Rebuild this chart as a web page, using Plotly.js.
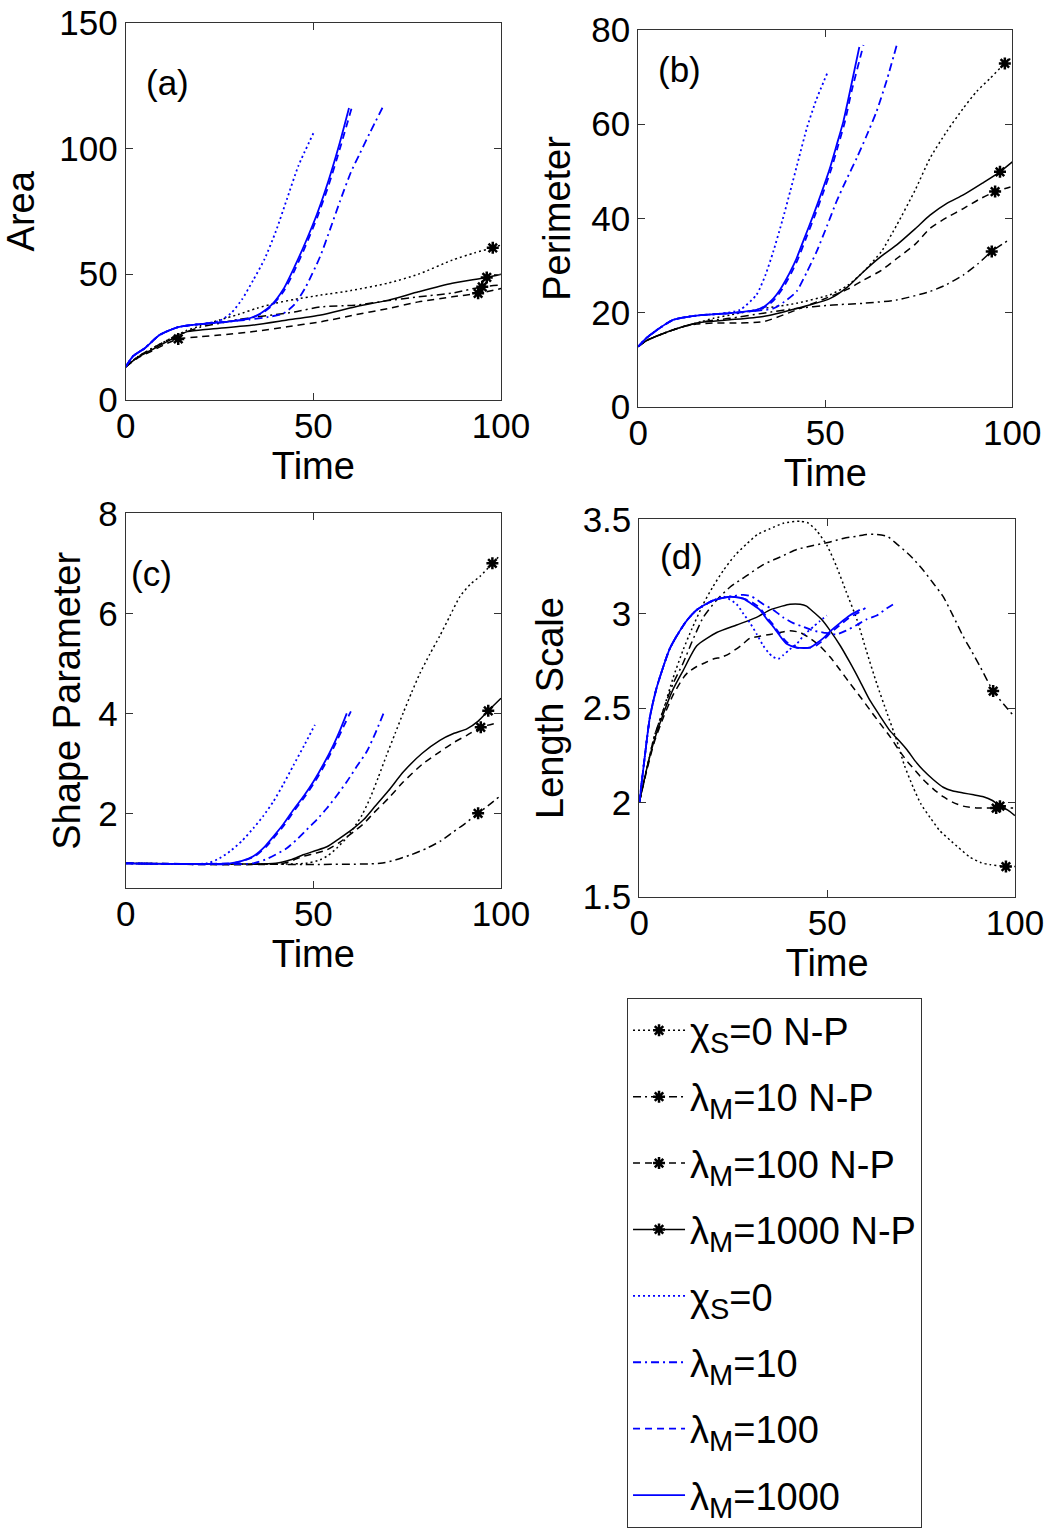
<!DOCTYPE html>
<html>
<head>
<meta charset="utf-8">
<script src="https://cdn.plot.ly/plotly-3.0.1.min.js"></script>
<style>html,body{margin:0;padding:0;background:#fff;}#chart{width:1051px;height:1531px;}</style>
</head>
<body>
<div id="chart"></div>
<script>
// ---------- Panel (a): Area ----------
const tA_k0   = [0,3,7,12,16,20,25,30,35,40,45,52,60,70,78,87,93,97.8,100];
const A_k0    = [13.2,17,20.5,24.5,27.5,29.5,31.8,34,36.5,38.5,40,41.7,43.5,46.5,50,55.6,58.5,60.5,61.6];
const mA_k0   = [97.8];
const tA_k10  = [0,3,7,12,16,20,25,30,35,40,45,52,61,70,78,87,95,100];
const A_k10   = [13.2,17,20.5,24.5,27,29,30.5,32,33,34,35,37,37.7,39.5,41,42.5,45,45.7];
const mA_k10  = [95];
const tA_k100 = [0,3,7,11,14,20,25,34,43,52,61,70,78,87,93.9,100];
const A_k100  = [13.2,16.5,19.5,22.5,24.3,25.2,25.8,27.2,29.1,31.1,33.8,36.4,39,41,42.4,44.3];
const mA_k100 = [14,93.9];
const tA_k1000= [0,3,7,12,16,20,25,34,43,52,61,70,78,87,96.2,100];
const A_k1000 = [13.2,16.8,20,24,27,27.8,28.5,29.8,31.8,33.8,37,39.7,43,46.4,48.7,50];
const mA_k1000= [96.2];
const tA_b0   = [0,2,5,9,14,20,25,28,31,34,37,40,43,46,50];
const A_b0    = [13.2,17.5,20.5,25.8,29,30.2,31.5,34.4,40,47.7,56,67,80,93,106];
const tA_b10  = [0,2,5,9,14,20,27,33,38,42,45,48,51.8,54.5,57.1,60,62.4,65,68.7];
const A_b10   = [13.2,17.5,20.5,25.8,29,30.2,31.1,32,33,34.4,38,45,57,68,79,90.5,98,106,117];
const tA_b100 = [0,2,5,9,14,20,27,33,36,39,42,45,48,51,54,57,60.2];
const A_b100  = [13.2,17.5,20.5,25.8,29,30.2,31.1,32.4,34.2,37.5,43,51.5,61.5,72.5,85,99.5,116];
const tA_b1000= [0,2,5,9,14,20,27,33,36,39,42,45,48,51,54,57,59.5];
const A_b1000 = [13.2,17.5,20.5,25.8,29,30.2,31.1,32.5,34.5,38,44,53,63,74,87,102,116];

// ---------- Panel (b): Perimeter ----------
const tB_k0   = [0,2,6.7,11,15.6,20,24.5,33.4,42.3,51.2,56,60.2,65,69.1,74,78,82.5,86.9,90.5,94,98,100];
const B_k0    = [12.8,14,15.6,16.8,17.8,18.8,19.5,20.9,22,23.8,25.8,28.7,33,38.6,46,52.8,58.5,63.4,67,69.7,72.9,74.3];
const mB_k0   = [98];
const tB_k10  = [0,2,6.7,11,15.6,20,24.5,33.4,42.3,51.2,60.2,69.1,78,82.5,86.9,91,94.5,99];
const B_k10   = [12.8,14,15.6,16.8,17.8,18.4,18.8,19.9,20.9,21.6,22,22.7,24.5,26,28,30.5,33,35.4];
const mB_k10  = [94.5];
const tB_k100 = [0,2,6.7,11,15.6,20,24.5,33.4,42.3,51.2,56,60.2,65,69.1,74,78,82.5,86.9,91,95.4,99.5];
const B_k100  = [12.8,14,15.6,16.8,17.6,17.8,17.8,18.1,20.6,23.4,25,26.9,29,31.5,34.5,37.9,40.2,42.1,44,45.7,46.7];
const mB_k100 = [95.4];
const tB_k1000= [0,2,6.7,11,15.6,20,24.5,33.4,42.3,51.2,56,60.2,65,69.1,74,78,82.5,86.9,92,96.7,100];
const B_k1000 = [12.8,14,15.6,16.8,17.8,18.2,18.5,19.2,20.9,23,25.5,28.7,32,34.4,37.8,40.7,43.2,45,47.5,49.9,52];
const mB_k1000= [96.7];
const tB_b0   = [0,2,4.9,9.4,15.6,22,27.2,31.6,34,36.1,38.5,40.6,43,45,47.5,50.5];
const B_b0    = [12.8,14.5,16.3,18.5,19.4,19.8,20.6,23.8,28,33,39.5,45.7,53,59,65,70.8];
const tB_b10  = [0,2,4.9,9.4,15.6,24.5,31.6,36.1,39,42.3,45,47.7,50.5,53,55.5,58.4,61,63.7,66.5,69.1];
const B_b10   = [12.8,14.5,16.3,18.5,19.4,19.9,20.4,20.9,22.3,24.5,28.5,33,38.5,43.6,48,52.8,57.5,62.7,69.5,76.8];
const tB_b100 = [0,2,4.9,9.4,15.6,24.5,31.6,34.4,36.5,38.4,40.1,41.4,42.7,44.9,47.2,49.4,51.6,53.4,55.2,57,60.2];
const B_b100  = [12.8,14.5,16.3,18.5,19.4,19.9,20.5,21.4,22.9,24.9,27.2,29.2,31.4,35.9,40.6,45.4,50.5,55.4,60.4,66.9,76.8];
const tB_b1000= [0,2,4.9,9.4,15.6,24.5,31.6,34,36.1,38,39.7,41,42.3,44.5,46.8,49,51.2,53,54.8,56.6,59.1];
const B_b1000 = [12.8,14.5,16.3,18.5,19.4,19.9,20.6,21.5,23,25,27.3,29.3,31.5,36,40.7,45.5,50.6,55.5,60.5,67,76.4];

// ---------- Panel (c): Shape Parameter ----------
const tC_k0   = [0,48,51.8,54,56.2,58.5,60.7,63,65.1,67.3,69.5,71.8,74,76.2,78.4,81,83.7,86.4,89.1,91.8,94.4,97.7,99.5];
const C_k0    = [1,1,1.07,1.16,1.3,1.48,1.7,1.97,2.3,2.72,3.16,3.6,4.02,4.42,4.8,5.18,5.55,5.95,6.34,6.58,6.74,7.0,7.14];
const mC_k0   = [97.7];
const tC_k10  = [0,67.8,72,76,80.2,84,87.3,90.5,93.9,97,99.5];
const C_k10   = [1,1,1.07,1.17,1.3,1.45,1.63,1.8,2.0,2.18,2.33];
const mC_k10  = [93.9];
const tC_k100 = [0,42,47.3,50.5,53.6,57,60.7,63.5,66,70,74,79,83.7,87.5,90.9,94.6,99];
const C_k100  = [1,1,1.14,1.2,1.27,1.42,1.63,1.8,2.0,2.3,2.63,2.98,3.23,3.42,3.56,3.72,3.81];
const mC_k100 = [94.6];
const tC_k1000= [0,40,44,47.3,50.5,53.6,57,60.7,63.5,66,70,74,79,83.7,87.5,90.9,94,96.6,100];
const C_k1000 = [1,1,1.07,1.17,1.25,1.33,1.5,1.7,1.88,2.1,2.45,2.83,3.2,3.46,3.6,3.69,3.85,4.05,4.3];
const mC_k1000= [96.6];
const tC_b0   = [0,21.6,25,27.8,31,34,36.7,39.3,42,44.7,47.5,50.4];
const C_b0    = [1,1,1.1,1.24,1.45,1.7,1.95,2.23,2.58,2.96,3.35,3.77];
const tC_b10  = [0,34,38,42.9,45.5,48.2,51,53.6,56.2,58.9,61.5,64.2,66.5,68.7];
const C_b10   = [1,1,1.1,1.3,1.47,1.67,1.88,2.1,2.35,2.63,2.93,3.23,3.6,4.0];
const tC_b100 = [0,28.2,31.4,34.4,37.4,39.7,42.4,45.1,47.9,50.4,53.1,55.7,57.7,60.0];
const C_b100  = [1,1,1.05,1.14,1.33,1.53,1.78,2.07,2.35,2.63,2.98,3.36,3.68,4.04];
const tC_b1000= [0,27.8,31,34,37,39.3,42,44.7,47.5,50,52.7,55.3,57.2,58.9];
const C_b1000 = [1,1,1.05,1.14,1.33,1.53,1.78,2.07,2.35,2.63,2.98,3.36,3.68,4.0];

// ---------- Panel (d): Length Scale ----------
const tD_k0   = [0,2,4,6.4,9,11.7,14,17,19.5,22.4,25.5,28.6,31.5,34.8,38.5,42.8,45,47.2,50,52.5,55,57.9,60.5,63.2,66,68.5,70.5,72.9,75,77.4,80,82.7,85,88,91,93.3,97.6,100];
const D_k0    = [2.0,2.18,2.35,2.49,2.66,2.81,2.92,3.05,3.14,3.23,3.31,3.37,3.42,3.45,3.48,3.49,3.48,3.44,3.36,3.25,3.12,2.97,2.8,2.63,2.47,2.33,2.2,2.08,1.99,1.92,1.85,1.8,1.76,1.71,1.68,1.67,1.66,1.66];
const mD_k0   = [97.6];
const tD_k10  = [0,2,4,6.4,9,11.7,14,17,20.5,24.1,28.5,33,37.5,41.9,46,50.8,54.5,57.9,60.5,63.2,66,68.5,72,75.6,78.3,80.9,83.5,86.2,88.5,90.7,94.2,97,99.6];
const D_k10   = [2.0,2.18,2.35,2.49,2.63,2.74,2.85,2.98,3.07,3.14,3.2,3.26,3.3,3.34,3.36,3.38,3.4,3.41,3.42,3.42,3.41,3.37,3.31,3.23,3.16,3.09,2.99,2.88,2.8,2.72,2.59,2.52,2.46];
const mD_k10  = [94.2];
const tD_k100 = [0,2,4,6.4,9,11.7,13,15.3,17.5,19.7,22,24.1,27,29.5,32,34.8,37.5,40.1,42.8,45.4,48,50.8,53.5,56.1,58.8,61.4,64,66.7,69,71.2,73.4,75.6,78.3,80.9,83.5,86.2,90,95,99.5];
const D_k100  = [2.0,2.17,2.32,2.45,2.57,2.66,2.69,2.72,2.74,2.76,2.77,2.79,2.83,2.87,2.88,2.89,2.9,2.91,2.9,2.87,2.83,2.77,2.7,2.63,2.56,2.49,2.42,2.35,2.28,2.22,2.17,2.12,2.07,2.03,2.0,1.98,1.97,1.97,1.97];
const mD_k100 = [95];
const tD_k1000= [0,2,4,6.4,9,11.7,15.3,20.6,25.9,31.2,34.8,38,40.1,42.8,44.5,46.3,48.5,50.8,53.5,56.1,58.8,61.4,64,66.7,69,71.2,73.4,75.6,78.3,80.9,83.5,86.2,89,91.6,94,96,98,100];
const D_k1000 = [2.0,2.18,2.33,2.47,2.6,2.7,2.83,2.9,2.94,2.98,3.02,3.04,3.05,3.05,3.04,3.01,2.97,2.91,2.83,2.74,2.64,2.54,2.46,2.38,2.33,2.28,2.22,2.17,2.12,2.08,2.06,2.05,2.04,2.03,2.01,1.98,1.96,1.93];
const mD_k1000= [96];
const tD_b0   = [0,1.5,2.8,4.5,6.4,8,9.9,12.5,15.3,19.7,22.5,25.9,27.7,29.5,31.3,33,34.5,35.7,37,38.3,40,41.9,44,46.3,48,49.9];
const D_b0    = [2.0,2.25,2.45,2.6,2.72,2.81,2.88,2.96,3.02,3.07,3.09,3.05,3.0,2.95,2.89,2.83,2.79,2.77,2.76,2.78,2.81,2.84,2.89,2.93,2.96,2.99];
const tD_b10  = [0,1.5,2.8,4.5,6.4,8,9.9,12.5,15.3,19.7,24.1,27.7,30,33,35.7,38.3,41,43.7,46.3,49,52.5,55,57.9,60.5,63.2,66,68.5];
const D_b10   = [2.0,2.25,2.45,2.6,2.72,2.81,2.88,2.96,3.02,3.07,3.09,3.1,3.09,3.05,3.02,2.98,2.95,2.93,2.91,2.9,2.89,2.91,2.94,2.97,2.99,3.03,3.06];
const tD_b100 = [0,1.5,2.8,4.5,6.4,8,9.9,12.5,15.3,19.7,24.1,27.7,30,32.1,34,35.7,37.5,39.2,41.9,45.4,47,49,51,53.4,56,58.7,60.2];
const D_b100  = [2.0,2.25,2.45,2.6,2.72,2.81,2.88,2.96,3.02,3.07,3.09,3.08,3.06,3.03,2.98,2.94,2.89,2.85,2.82,2.82,2.83,2.86,2.9,2.94,2.98,3.01,3.03];
const tD_b1000= [0,1.5,2.8,4.5,6.4,8,9.9,12.5,15.3,19.7,24.1,27.7,30,32.1,34,35.7,37.5,39.2,41.9,45.4,47,49,51,53.4,56,58.7];
const D_b1000 = [2.0,2.25,2.45,2.6,2.72,2.81,2.88,2.96,3.02,3.07,3.09,3.08,3.05,3.02,2.97,2.93,2.88,2.84,2.82,2.82,2.84,2.87,2.91,2.95,2.99,3.02];

// ---------- Series definitions ----------
const SUB = (c) => '<sub><span style="font-size:29px">' + c + '</span></sub>';
const seriesNames = ['χ' + SUB('S') + '=0 N-P','λ' + SUB('M') + '=10 N-P','λ' + SUB('M') + '=100 N-P','λ' + SUB('M') + '=1000 N-P',
                     'χ' + SUB('S') + '=0','λ' + SUB('M') + '=10','λ' + SUB('M') + '=100','λ' + SUB('M') + '=1000'];
const panels = [
  {ax:'', series:[[tA_k0,A_k0,mA_k0],[tA_k10,A_k10,mA_k10],[tA_k100,A_k100,mA_k100],[tA_k1000,A_k1000,mA_k1000],
                  [tA_b0,A_b0],[tA_b10,A_b10],[tA_b100,A_b100],[tA_b1000,A_b1000]]},
  {ax:'2', series:[[tB_k0,B_k0,mB_k0],[tB_k10,B_k10,mB_k10],[tB_k100,B_k100,mB_k100],[tB_k1000,B_k1000,mB_k1000],
                  [tB_b0,B_b0],[tB_b10,B_b10],[tB_b100,B_b100],[tB_b1000,B_b1000]]},
  {ax:'3', series:[[tC_k0,C_k0,mC_k0],[tC_k10,C_k10,mC_k10],[tC_k100,C_k100,mC_k100],[tC_k1000,C_k1000,mC_k1000],
                  [tC_b0,C_b0],[tC_b10,C_b10],[tC_b100,C_b100],[tC_b1000,C_b1000]]},
  {ax:'4', series:[[tD_k0,D_k0,mD_k0],[tD_k10,D_k10,mD_k10],[tD_k100,D_k100,mD_k100],[tD_k1000,D_k1000,mD_k1000],
                  [tD_b0,D_b0],[tD_b10,D_b10],[tD_b100,D_b100],[tD_b1000,D_b1000]]}
];
const dashes = ['2px,3px','8px,4px,2px,4px','7px,5px','solid','2px,3px','8px,4px,2px,4px','7px,5px','solid'];

const traces = [];
panels.forEach((p, pi) => {
  p.series.forEach((s, si) => {
    const black = si < 4;
    const tr = {
      type:'scatter', x:s[0], y:s[1],
      xaxis:'x'+p.ax, yaxis:'y'+p.ax,
      name: seriesNames[si], legendgroup:'g'+si, showlegend: pi === 0,
      mode: black ? 'lines+markers' : 'lines',
      line:{color: black ? '#000000' : '#0000ff', width: black ? 1.5 : 1.8, dash: dashes[si], shape:'spline', smoothing:0.6},
      hoverinfo:'x+y+name'
    };
    if (black) {
      const sel = [];
      s[0].forEach((t, i) => { if (s[2].indexOf(t) >= 0) sel.push(i); });
      tr.selectedpoints = sel;
      tr.marker = {symbol:'asterisk-open', size:10, color:'#000', line:{color:'#000', width:2.5}};
      tr.selected = {marker:{opacity:1}};
      tr.unselected = {marker:{opacity:0}};
    }
    traces.push(tr);
  });
});

const FONT = 'Arial, "Liberation Sans", Helvetica, sans-serif';
function xax(domain, anchor){
  return {domain:domain, anchor:anchor, range:[0,100], tickvals:[0,50,100], ticks:'inside', ticklen:7,
    tickcolor:'#333', showline:true, linecolor:'#333', linewidth:1, mirror:'ticks', showgrid:false, zeroline:false,
    tickfont:{size:35, color:'#000', family:FONT}, ticklabelstandoff:-5,
    title:{text:'Time', font:{size:38, color:'#000', family:FONT}, standoff:0}};
}
function yax(domain, anchor, range, tickvals, title, standoff){
  return {domain:domain, anchor:anchor, range:range, tickvals:tickvals, ticks:'inside', ticklen:7,
    tickcolor:'#333', showline:true, linecolor:'#333', linewidth:1, mirror:'ticks', showgrid:false, zeroline:false,
    tickfont:{size:35, color:'#000', family:FONT},
    title:{text:title, font:{size:38, color:'#000', family:FONT}, standoff:standoff}};
}

const layout = {
  width:1051, height:1531, margin:{l:0,r:0,t:0,b:0},
  paper_bgcolor:'#fff', plot_bgcolor:'#fff',
  font:{family:FONT, color:'#000'},
  xaxis:  xax([0.1196,0.4767],'y'),
  yaxis:  yax([0.7387,0.9853],'x',[0,150],[0,50,100,150],'Area',13),
  xaxis2: xax([0.6073,0.9632],'y2'),
  yaxis2: yax([0.7342,0.9804],'x2',[0,80],[0,20,40,60,80],'Perimeter',9),
  xaxis3: xax([0.1196,0.4767],'y3'),
  yaxis3: yax([0.4198,0.6647],'x3',[0.5,8],[2,4,6,8],'Shape Parameter',5),
  xaxis4: xax([0.6083,0.9657],'y4'),
  yaxis4: yax([0.4143,0.6608],'x4',[1.5,3.5],[1.5,2,2.5,3,3.5],'Length Scale',7),
  showlegend:true,
  legend:{x:0.5966, y:0.3481, xanchor:'left', yanchor:'top', bgcolor:'#fff', bordercolor:'#333', borderwidth:1,
    font:{size:38, family:FONT, color:'#000'}, tracegroupgap:14, traceorder:'grouped', itemwidth:52},
  annotations:[
    {text:'(a)', xref:'paper', yref:'paper', x:0.1598, y:0.9464, xanchor:'center', yanchor:'middle', showarrow:false, font:{size:35, family:FONT, color:'#000'}},
    {text:'(b)', xref:'paper', yref:'paper', x:0.647, y:0.9543, xanchor:'center', yanchor:'middle', showarrow:false, font:{size:35, family:FONT, color:'#000'}},
    {text:'(c)', xref:'paper', yref:'paper', x:0.1446, y:0.6257, xanchor:'center', yanchor:'middle', showarrow:false, font:{size:35, family:FONT, color:'#000'}},
    {text:'(d)', xref:'paper', yref:'paper', x:0.6489, y:0.6362, xanchor:'center', yanchor:'middle', showarrow:false, font:{size:35, family:FONT, color:'#000'}}
  ]
};

Plotly.newPlot('chart', traces, layout, {displayModeBar:false});
</script>
</body>
</html>
